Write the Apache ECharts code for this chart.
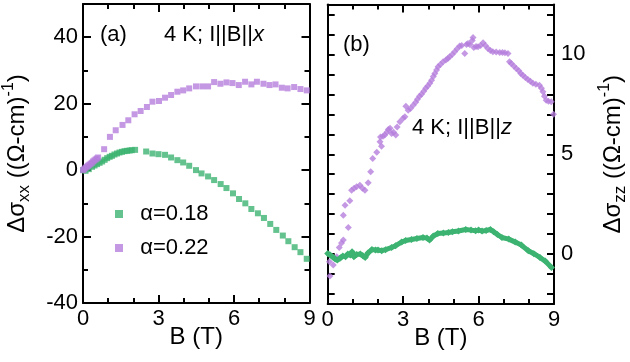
<!DOCTYPE html>
<html><head><meta charset="utf-8">
<script src="https://cdn.jsdelivr.net/npm/echarts@6/dist/echarts.min.js"></script>
<style>html,body{margin:0;padding:0;background:#fff}#c{width:630px;height:362px}</style>
</head><body><div id="c"></div>
<script>
// ---- data ----
const seriesNames = ['α=0.18', 'α=0.22'];
// panel (a): I||B||x
const aGreenB = [0,0.1,0.23,0.36,0.46,0.56,0.66,0.76,0.86,0.96,1.06,1.15,1.25,1.35,1.45,1.55,1.65,1.75,1.85,1.94,2.07,2.51,2.76,3.0,3.26,3.50,3.75,3.98,4.22,4.49,4.71,4.97,5.21,5.47,5.70,5.96,6.20,6.45,6.69,6.95,7.19,7.44,7.68,7.94,8.16,8.41,8.64,8.89];
const aGreenV = [0,-0.2,0.3,1.0,1.4,1.8,2.2,2.6,3.1,3.6,4.0,4.3,4.7,5.0,5.3,5.5,5.7,5.8,5.9,6.0,6.1,5.6,5.0,4.8,4.6,3.8,3.0,2.3,1.3,0,-1.0,-1.9,-3.0,-4.2,-5.4,-7.0,-8.7,-10.0,-11.7,-13.0,-14.4,-16.2,-18.0,-19.7,-21.4,-23.2,-24.7,-26.7];
const aPurpleB = [0,0.05,0.1,0.15,0.2,0.25,0.3,0.35,0.4,0.45,0.5,0.55,0.6,0.84,1.07,1.30,1.57,1.80,2.05,2.29,2.54,2.76,3.02,3.26,3.50,3.75,3.98,4.22,4.49,4.74,4.97,5.21,5.46,5.70,5.94,6.19,6.44,6.69,6.91,7.17,7.41,7.65,7.90,8.13,8.39,8.64,8.89];
const aPurpleV = [0,0.3,0.7,1.0,1.3,1.6,1.9,2.2,2.6,2.9,3.2,3.5,3.8,6.3,10.0,12.0,13.6,15.0,16.8,17.8,19.0,20.6,20.8,21.8,22.6,23.6,24.0,24.6,25.2,25.2,25.2,26.5,26.0,26.4,26.2,25.6,26.6,25.8,26.6,26.0,25.6,25.8,24.8,24.6,25.0,24.4,24.0];
// panel (b): I||B||z
const bGreenB = [0,0.1,0.2,0.3,0.38,0.5,0.6,0.71,0.8,0.9,0.97,1.04,1.15,1.3,1.4,1.49,1.6,1.76,1.9,2.0,2.15,2.3,2.54,2.7,2.94,3.1,3.33,3.55,3.79,3.95,4.05,4.2,4.38,4.6,4.8,4.96,5.2,5.49,5.7,5.88,6.0,6.14,6.3,6.47,6.6,6.75,6.93,7.2,7.46,7.7,7.98,8.2,8.44,8.65,8.9];
const bGreenV = [0.03,-0.05,-0.15,-0.25,-0.3,-0.2,-0.1,-0.13,0,-0.05,0.12,-0.13,-0.02,0,-0.08,-0.17,0.05,0.23,0.2,0.2,0.17,0.22,0.33,0.42,0.6,0.68,0.73,0.78,0.83,0.8,0.7,0.9,1.03,1.05,1.08,1.12,1.16,1.23,1.2,1.17,1.2,1.15,1.18,1.23,1.12,0.98,0.83,0.75,0.6,0.45,0.17,0.02,-0.17,-0.35,-0.67];
const bPurpleB = [0.07,0.09,0.22,0.36,0.46,0.55,0.62,0.82,0.62,0.69,0.88,0.95,1.05,1.15,1.28,1.38,1.48,1.61,1.71,1.79,1.95,2.08,2.10,2.14,2.2,2.27,2.35,2.41,2.48,2.54,2.62,2.71,2.76,2.87,3.0,3.07,3.11,3.2,3.29,3.40,3.5,3.57,3.65,3.73,3.82,3.90,3.98,4.06,4.13,4.2,4.26,4.33,4.39,4.48,4.59,4.7,4.78,4.85,4.95,5.05,5.15,5.25,5.33,5.45,5.52,5.58,5.65,5.78,5.75,5.81,5.9,5.98,6.08,6.18,6.27,6.37,6.47,6.57,6.7,6.84,6.95,7.05,7.17,7.23,7.3,7.4,7.5,7.6,7.68,7.76,7.86,7.96,8.06,8.16,8.28,8.42,8.5,8.56,8.62,8.69,8.78,8.89,8.98];
const bPurpleV = [-0.38,-1.1,-0.55,-0.13,0.33,0.55,0.7,1.33,1.95,2.45,2.67,3.2,3.3,3.37,3.45,3.3,3.2,3.57,4.12,4.79,5.1,5.62,5.87,5.4,5.9,5.96,6.1,6.24,6.3,6.04,6.1,5.96,6.37,6.63,6.8,6.88,7.41,7.2,7.29,7.46,7.6,7.75,7.9,8.01,8.15,8.3,8.42,8.55,8.7,8.9,9.05,9.22,9.38,9.5,9.63,9.72,9.8,9.88,10.0,10.13,10.28,10.42,10.45,10.05,10.5,10.55,10.5,10.85,10.7,10.35,10.4,10.38,10.45,10.58,10.45,10.3,10.2,10.13,10.12,10.1,10.1,10.08,10.05,9.63,9.55,9.42,9.3,9.18,9.05,8.96,8.85,8.75,8.65,8.55,8.5,8.46,8.3,8.13,7.9,7.71,7.66,7.63,7.0];

const zip = (xs, ys) => xs.map((x, i) => [x, ys[i]]);
const GREEN = '#3cb371', PURPLE = '#b57edc';
const FONT = '"Liberation Sans", Arial, sans-serif';
const FS = 22;   // tick labels, legend, annotations
const NFS = 24;  // axis titles

const gridA = {left: 83, top: 4, width: 226.5, height: 299};
const gridB = {left: 327.7, top: 4.5, width: 226.8, height: 299.5};

function xAx(grid, pos, labels) {
  return {
    type: 'value', gridIndex: grid, position: pos, min: 0, max: 9, interval: 3,
    axisLine: {show: true, onZero: false, lineStyle: {color: '#000', width: 2}},
    axisTick: {show: true, inside: true, length: 8, lineStyle: {color: '#000', width: 2}},
    minorTick: {show: true, splitNumber: 3, length: 5, lineStyle: {color: '#000', width: 2}},
    axisLabel: {show: labels, margin: 5, color: '#000', fontSize: FS, fontFamily: FONT},
    splitLine: {show: false},
    name: labels ? 'B (T)' : '', nameLocation: 'middle', nameGap: 22, nameMoveOverlap: false,
    nameTextStyle: {color: '#000', fontSize: NFS, fontFamily: FONT}
  };
}
const rich = {
  sub: {fontSize: 17, fontFamily: FONT, color: '#000', verticalAlign: 'bottom', lineHeight: 17},
  sup: {fontSize: 16, fontFamily: FONT, color: '#000', verticalAlign: 'top', lineHeight: 16}
};
function yAxA(pos, labels) {
  return {
    type: 'value', gridIndex: 0, position: pos, min: -40, max: 50, interval: 20,
    axisLine: {show: true, onZero: false, lineStyle: {color: '#000', width: 2}},
    axisTick: {show: true, inside: true, length: 8, lineStyle: {color: '#000', width: 2}},
    minorTick: {show: true, splitNumber: 2, length: 5, lineStyle: {color: '#000', width: 2}},
    axisLabel: {show: labels, margin: 5, color: '#000', fontSize: FS, fontFamily: FONT, showMaxLabel: false},
    splitLine: {show: false},
    name: labels ? 'Δσ{sub|xx} ((Ω-cm){sup|-1})' : '', nameLocation: 'middle', nameGap: 50, nameRotate: 90,
    nameMoveOverlap: false,
    nameTextStyle: {color: '#000', fontSize: NFS, fontFamily: FONT, lineHeight: 32, rich: rich}
  };
}
function yAxB(pos, labels) {
  return {
    type: 'value', gridIndex: 1, position: pos, min: -2.5, max: 12.5, splitNumber: 3,
    axisLine: {show: true, onZero: false, lineStyle: {color: '#000', width: 2}},
    axisTick: {show: true, inside: true, length: 7, lineStyle: {color: '#000', width: 2}},
    minorTick: {show: true, splitNumber: 5, length: 7, lineStyle: {color: '#000', width: 2}},
    axisLabel: {show: labels, margin: 7, color: '#000', fontSize: FS, fontFamily: FONT, showMinLabel: false, showMaxLabel: false},
    splitLine: {show: false},
    name: labels ? 'Δσ{sub|zz} ((Ω-cm){sup|-1})' : '', nameLocation: 'middle', nameGap: 43, nameRotate: 90,
    nameMoveOverlap: false,
    nameTextStyle: {color: '#000', fontSize: NFS, fontFamily: FONT, lineHeight: 32, rich: rich}
  };
}

const option = {
  backgroundColor: '#fff',
  animation: false,
  textStyle: {fontFamily: FONT},
  grid: [gridA, gridB],
  xAxis: [xAx(0, 'bottom', true), xAx(0, 'top', false), xAx(1, 'bottom', true), xAx(1, 'top', false)],
  yAxis: [yAxA('left', true), yAxA('right', false), yAxB('right', true), yAxB('left', false)],
  legend: {
    data: seriesNames, orient: 'vertical', left: 115, top: 202, padding: 0, itemWidth: 8, itemHeight: 8, itemGap: 10,
    icon: 'rect',
    formatter: '  {name}',
    textStyle: {fontSize: FS, fontFamily: FONT, color: '#000', lineHeight: 24}
  },
  graphic: [
    {type: 'text', left: 100, top: 24, style: {text: '(a)', font: `${FS}px ${FONT}`, fill: '#000'}},
    {type: 'text', left: 164, top: 24, style: {text: '4 K; I||B||{i|x}', font: `${FS}px ${FONT}`, fill: '#000',
      rich: {i: {fontStyle: 'italic', fontSize: FS, fontFamily: FONT}}}},
    {type: 'text', left: 343, top: 34, style: {text: '(b)', font: `${FS}px ${FONT}`, fill: '#000'}},
    {type: 'text', left: 412, top: 117, style: {text: '4 K; I||B||{i|z}', font: `${FS}px ${FONT}`, fill: '#000',
      rich: {i: {fontStyle: 'italic', fontSize: FS, fontFamily: FONT}}}}
  ],
  series: [
    {name: seriesNames[0], type: 'scatter', xAxisIndex: 0, yAxisIndex: 0, symbol: 'rect', symbolSize: 6,
      itemStyle: {color: GREEN}, data: zip(aGreenB, aGreenV)},
    {name: seriesNames[1], type: 'scatter', xAxisIndex: 0, yAxisIndex: 0, symbol: 'rect', symbolSize: 6,
      itemStyle: {color: PURPLE}, data: zip(aPurpleB, aPurpleV)},
    {name: seriesNames[0], type: 'line', xAxisIndex: 2, yAxisIndex: 2, symbol: 'diamond', symbolSize: 7, showSymbol: true,
      lineStyle: {color: GREEN, width: 5}, itemStyle: {color: GREEN}, data: zip(bGreenB, bGreenV)},
    {name: seriesNames[1], type: 'scatter', xAxisIndex: 2, yAxisIndex: 2, symbol: 'diamond', symbolSize: 7,
      itemStyle: {color: PURPLE}, data: zip(bPurpleB, bPurpleV)}
  ]
};
const chart = echarts.init(document.getElementById('c'), null, {renderer: 'canvas'});
chart.setOption(option);
</script></body></html>
